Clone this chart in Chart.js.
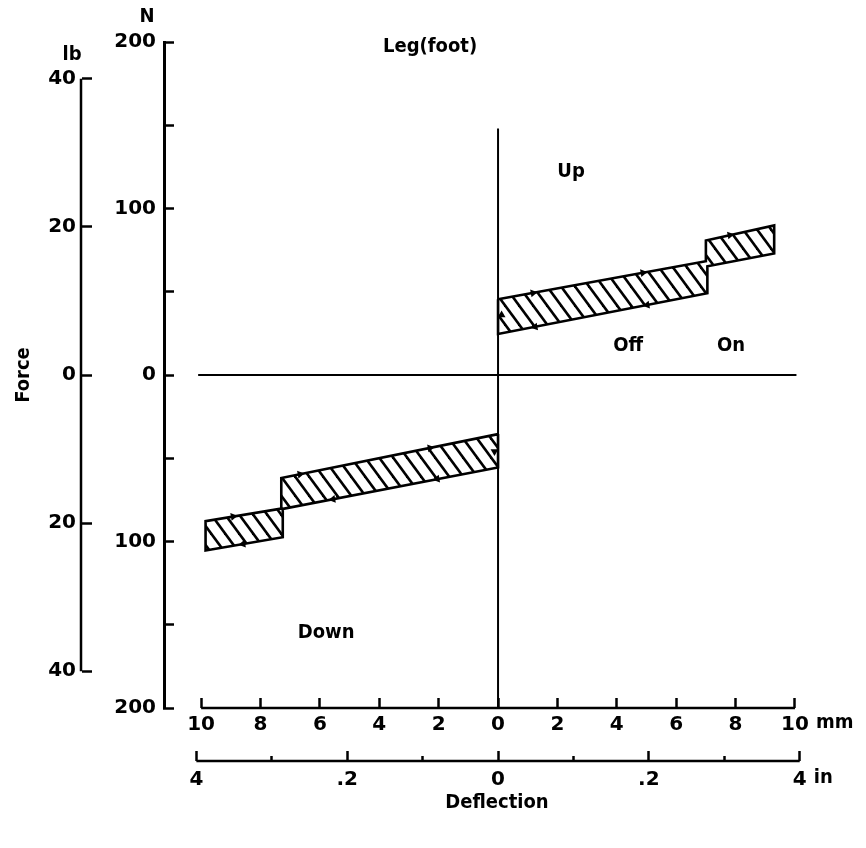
<!DOCTYPE html>
<html>
<head>
<meta charset="utf-8">
<title>Leg(foot) force - deflection</title>
<script src="https://cdn.jsdelivr.net/npm/chart.js@4.4.1/dist/chart.umd.min.js"></script>
<style>
    html, body { margin: 0; padding: 0; background: #fff; }
    #wrap { width: 866px; height: 848px; }
</style>
</head>
<body>
<div id="wrap"><canvas id="chart" width="866" height="848"></canvas></div>
<script>
// Leg (foot) switch: force vs deflection, up travel and down travel

// Axis ticks
const newtonTicks = [-200, -150, -100, -50, 0, 50, 100, 150, 200];
const poundTicks = [-40, -20, 0, 20, 40];
const mmTicks = [-10, -8, -6, -4, -2, 0, 2, 4, 6, 8, 10];
const inchTicks = [-0.4, -0.3, -0.2, -0.1, 0, 0.1, 0.2, 0.3, 0.4];
const inchTickLabels = ['4', '', '.2', '', '0', '', '.2', '', '4'];

// Hysteresis loop, up travel (mm, N), walked round as a closed outline
const upLoopMm = [0, 7.0, 7.0, 9.3, 9.3, 7.05, 7.05, 0, 0];
const upLoopN = [45.5, 68.3, 80.8, 89.8, 73, 65.3, 49.1, 24.6, 45.5];

// Hysteresis loop, down travel (mm, N)
const downLoopMm = [0, -7.3, -7.3, -9.85, -9.85, -7.25, -7.25, 0, 0];
const downLoopN = [-35.5, -61.9, -80.2, -87.8, -105.4, -97.4, -80.4, -55.5, -35.5];

// Direction arrows sitting on the loop outlines
const arrowRightMm = [1.18, 4.88, 7.81, -6.67, -2.29, -8.92];
const arrowRightN = [49.3, 61.4, 84.0, -59.6, -43.8, -85.0];
const arrowLeftMm = [1.25, 5.02, -5.56, -2.05, -8.59];
const arrowLeftN = [28.9, 42.0, -74.6, -62.5, -101.5];
const arrowUpMm = [0.12];
const arrowUpN = [36];
const arrowDownMm = [-0.12];
const arrowDownN = [-46];

// Zero force line and zero deflection line
const zeroLineMm = [-10.1, 10.05];
const zeroLineN = [0, 0];
const zeroDeflMm = [0, 0];
const zeroDeflN = [-200, 148];

// Labels written on the plot
const noteText = ['Leg(foot)', 'Up', 'Off', 'On', 'Down'];
const noteMm = [-2.29, 2.46, 4.38, 7.85, -5.79];
const noteN = [197, 122, 17.4, 17.4, -155];

const N_PER_LB = 4.44822;
const mmMin = -11.25;
const mmMax = 11.18;

const NUM_FONT = { family: 'DejaVu Sans', size: 20, weight: 'bold' };
const WORD_FONT = { family: '"DejaVu Sans Condensed", "DejaVu Sans"', size: 20, weight: 'bold' };
const WORD_CSS = 'bold 20px "DejaVu Sans Condensed", "DejaVu Sans"';

Chart.defaults.font.family = NUM_FONT.family;
Chart.defaults.font.size = NUM_FONT.size;
Chart.defaults.font.weight = NUM_FONT.weight;
Chart.defaults.color = '#000';

function toPoints(xs, ys) {
    return xs.map((x, i) => ({ x: x, y: ys[i] }));
}

// diagonal "\" hatching used inside the loops
function makeHatch() {
    const w = 14, h = 19;
    const c = document.createElement('canvas');
    c.width = w;
    c.height = h;
    const g = c.getContext('2d');
    g.strokeStyle = '#000';
    g.lineWidth = 2.6;
    for (const dx of [-w, 0, w]) {
        g.beginPath();
        g.moveTo(dx - 2, -2 * h / w);
        g.lineTo(dx + w + 2, h + 2 * h / w);
        g.stroke();
    }
    return g.createPattern(c, 'repeat');
}

const ctx = document.getElementById('chart').getContext('2d');
const hatch = makeHatch();

// axis spans that stop short of the plot edges, unit names and notes
const extras = {
    id: 'extras',
    afterDraw(chart) {
        const { ctx, scales } = chart;
        const { x, xin, y, ylb } = scales;
        ctx.save();
        ctx.strokeStyle = '#000';
        ctx.lineWidth = 2.5;
        ctx.beginPath();
        ctx.moveTo(ylb.right - 1, ylb.getPixelForValue(poundTicks[0]));
        ctx.lineTo(ylb.right - 1, ylb.getPixelForValue(poundTicks[poundTicks.length - 1]));
        ctx.moveTo(x.getPixelForValue(mmTicks[0]), x.top);
        ctx.lineTo(x.getPixelForValue(mmTicks[mmTicks.length - 1]), x.top);
        ctx.moveTo(xin.getPixelForValue(inchTicks[0]), xin.top);
        ctx.lineTo(xin.getPixelForValue(inchTicks[inchTicks.length - 1]), xin.top);
        ctx.stroke();

        ctx.fillStyle = '#000';
        ctx.font = WORD_CSS;
        ctx.textBaseline = 'middle';
        ctx.textAlign = 'center';
        ctx.fillText('N', y.right - 17, y.getPixelForValue(200) - 25);
        ctx.fillText('lb', ylb.right - 10, ylb.getPixelForValue(40) - 24);
        ctx.textAlign = 'left';
        ctx.fillText('mm', x.getPixelForValue(10) + 21, x.top + 15);
        ctx.fillText('in', xin.getPixelForValue(0.4) + 14, xin.top + 17);
        ctx.textAlign = 'center';
        noteText.forEach((t, i) => {
            ctx.fillText(t, x.getPixelForValue(noteMm[i]), y.getPixelForValue(noteN[i]));
        });
        ctx.restore();
    }
};

function arrowSet(xs, ys, rot) {
    return {
        data: toPoints(xs, ys),
        showLine: false,
        pointStyle: 'triangle',
        pointRadius: 4.5,
        pointRotation: rot,
        pointBackgroundColor: '#000',
        pointBorderColor: '#000',
        pointBorderWidth: 0,
        order: 0
    };
}

function loopSet(xs, ys) {
    return {
        data: toPoints(xs, ys),
        borderColor: '#000',
        borderWidth: 2.6,
        backgroundColor: hatch,
        fill: 'shape',
        pointRadius: 0,
        tension: 0,
        order: 1
    };
}

function refLine(xs, ys) {
    return {
        data: toPoints(xs, ys),
        borderColor: '#000',
        borderWidth: 2,
        pointRadius: 0,
        fill: false,
        order: 2
    };
}

new Chart(ctx, {
    type: 'line',
    data: {
        datasets: [
            arrowSet(arrowRightMm, arrowRightN, 80),
            arrowSet(arrowLeftMm, arrowLeftN, 260),
            arrowSet(arrowUpMm, arrowUpN, 0),
            arrowSet(arrowDownMm, arrowDownN, 180),
            loopSet(upLoopMm, upLoopN),
            loopSet(downLoopMm, downLoopN),
            refLine(zeroLineMm, zeroLineN),
            refLine(zeroDeflMm, zeroDeflN)
        ]
    },
    options: {
        responsive: false,
        animation: false,
        events: [],
        layout: { padding: { top: 42, right: 36, bottom: 27, left: 0 } },
        plugins: { legend: { display: false }, tooltip: { enabled: false } },
        scales: {
            x: {
                type: 'linear',
                position: 'bottom',
                weight: 0,
                min: mmMin,
                max: mmMax,
                bounds: 'data',
                afterBuildTicks: s => { s.ticks = mmTicks.map(v => ({ value: v })); },
                afterFit: s => { s.height = 53; },
                border: { display: false },
                grid: { drawOnChartArea: false, tickLength: -10, tickWidth: 2.5, tickColor: '#000' },
                ticks: { autoSkip: false, maxRotation: 0, padding: 15, callback: v => String(Math.abs(v)) }
            },
            xin: {
                type: 'linear',
                position: 'bottom',
                weight: 1,
                min: mmMin / 25.4,
                max: mmMax / 25.4,
                bounds: 'data',
                afterBuildTicks: s => { s.ticks = inchTicks.map(v => ({ value: v })); },
                afterFit: s => { s.height = 60; },
                border: { display: false },
                grid: {
                    drawOnChartArea: false,
                    tickLength: -10,
                    tickWidth: 2.5,
                    tickColor: '#000',
                    tickBorderDash: c => (inchTickLabels[c.index] === '' ? [5, 40] : [])
                },
                ticks: { autoSkip: false, maxRotation: 0, padding: 17, callback: (v, i) => inchTickLabels[i] },
                title: { display: true, text: 'Deflection', font: WORD_FONT, padding: { top: 0, bottom: 6 } }
            },
            y: {
                type: 'linear',
                position: 'left',
                weight: 0,
                min: -200,
                max: 200,
                bounds: 'data',
                afterBuildTicks: s => { s.ticks = newtonTicks.map(v => ({ value: v })); },
                afterFit: s => { s.width = 82; },
                border: { display: true, color: '#000', width: 3 },
                grid: { drawOnChartArea: false, tickLength: -10, tickWidth: 2.5, tickColor: '#000' },
                ticks: { autoSkip: false, padding: 18, callback: v => (v % 100 === 0 ? String(Math.abs(v)) : '') }
            },
            ylb: {
                type: 'linear',
                position: 'left',
                weight: 1,
                min: -200 / N_PER_LB,
                max: 200 / N_PER_LB,
                bounds: 'data',
                afterBuildTicks: s => { s.ticks = poundTicks.map(v => ({ value: v })); },
                afterFit: s => { s.width = 82; },
                border: { display: false },
                grid: { drawOnChartArea: false, tickLength: -10, tickWidth: 2.5, tickColor: '#000' },
                ticks: { autoSkip: false, padding: 16, callback: v => String(Math.abs(v)) },
                title: { display: true, text: 'Force', font: WORD_FONT, padding: { top: 12, bottom: 0 } }
            }
        }
    },
    plugins: [extras]
});
</script>
</body>
</html>
